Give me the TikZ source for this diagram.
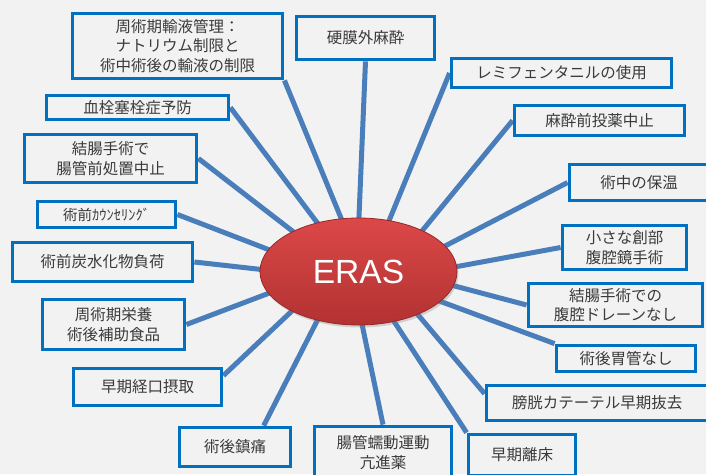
\documentclass[tikz,border=0pt]{standalone}
\usepackage{fontspec}
\setmainfont{Noto Sans CJK JP}
\newfontfamily\erasfont{Liberation Sans}
\usetikzlibrary{calc,shapes.geometric,shadows}
\pgfdeclarelayer{back}
\pgfdeclarelayer{lines}
\pgfsetlayers{back,lines,main}
\definecolor{bgc}{HTML}{F2F2F2}
\definecolor{boxc}{HTML}{0070C0}
\definecolor{linec}{HTML}{4A7EBB}
\definecolor{txtc}{HTML}{3A3A3A}
\definecolor{eraTop}{HTML}{DC4848}
\definecolor{eraBot}{HTML}{B23232}
\definecolor{eraEdge}{HTML}{9A2626}
\begin{document}
\begin{tikzpicture}[x=1pt,y=-1pt,
  item/.style={draw=boxc, line width=3.8pt, fill=bgc, text=txtc, align=center,
    inner sep=0pt, font=\fontsize{15.5}{19.5}\selectfont},
  spoke/.style={draw=linec, line width=5pt}]
\begin{pgfonlayer}{back}
  \fill[bgc] (0,0) rectangle (706,474);
\end{pgfonlayer}
\useasboundingbox (0,0) rectangle (706,474);

% centre
\node[ellipse, minimum width=197pt, minimum height=107pt, inner sep=0pt,
  top color=eraTop, bottom color=eraBot, draw=eraEdge, line width=0.8pt,
  drop shadow={opacity=0.3, shadow xshift=1.5pt, shadow yshift=-2.5pt},
  text=white, font=\erasfont\fontsize{33.5}{36}\selectfont] (eras) at (358.5,271.5) {ERAS};

% boxes
\node[item, minimum width=210pt, minimum height=65pt] (fluid) at (177.5,46) {周術期輸液管理：\\ナトリウム制限と\\術中術後の輸液の制限};
\node[item, minimum width=182pt, minimum height=24pt] (vte) at (137.5,107.5) {血栓塞栓症予防};
\node[item, minimum width=172pt, minimum height=48pt] (prep) at (110.5,158.5) {結腸手術で\\腸管前処置中止};
\node[item, minimum width=138pt, minimum height=26pt, font=\fontsize{14.5}{16}\selectfont] (couns) at (106.5,214.5) {術前ｶｳﾝｾﾘﾝｸﾞ};
\node[item, minimum width=180pt, minimum height=39pt] (carb) at (102.5,262) {術前炭水化物負荷};
\node[item, minimum width=142pt, minimum height=50pt] (nutr) at (113.5,324.5) {周術期栄養\\術後補助食品};
\node[item, minimum width=148pt, minimum height=37pt] (oral) at (147.5,387) {早期経口摂取};
\node[item, minimum width=111pt, minimum height=39pt] (anal) at (235,447) {術後鎮痛};
\node[item, minimum width=137pt, minimum height=52pt] (peri) at (383,452.5) {腸管蠕動運動\\亢進薬};
\node[item, minimum width=107pt, minimum height=41pt] (mob) at (522,455) {早期離床};
\node[item, minimum width=221pt, minimum height=35pt] (cath) at (597,403) {膀胱カテーテル早期抜去};
\node[item, minimum width=139pt, minimum height=26pt] (ngt) at (626,358.5) {術後胃管なし};
\node[item, minimum width=174pt, minimum height=43pt] (drain) at (615.5,305) {結腸手術での\\腹腔ドレーンなし};
\node[item, minimum width=124pt, minimum height=44pt] (lap) at (624.5,247.5) {小さな創部\\腹腔鏡手術};
\node[item, minimum width=139pt, minimum height=36pt] (warm) at (639,182.5) {術中の保温};
\node[item, minimum width=170pt, minimum height=30pt] (premed) at (599.5,120.5) {麻酔前投薬中止};
\node[item, minimum width=220pt, minimum height=29pt] (remi) at (561.5,73) {レミフェンタニルの使用};
\node[item, minimum width=138pt, minimum height=43pt] (epi) at (365.5,38) {硬膜外麻酔};

% spokes
\begin{pgfonlayer}{lines}
\draw[spoke] (fluid.south east) -- ($(eras.center)!0.8!(eras.107)$);
\draw[spoke] (vte.east) -- ($(eras.center)!0.8!(eras.131)$);
\draw[spoke] (prep.east) -- ($(eras.center)!0.8!(eras.150)$);
\draw[spoke] (couns.east) -- ($(eras.center)!0.8!(eras.168.5)$);
\draw[spoke] (carb.east) -- ($(eras.center)!0.8!(eras.180)$);
\draw[spoke] (nutr.east) -- ($(eras.center)!0.8!(eras.192.6)$);
\draw[spoke] ($(oral.north east)!0.22!(oral.south east)$) -- ($(eras.center)!0.8!(eras.208)$);
\draw[spoke] ($(anal.north west)!0.75!(anal.north east)$) -- ($(eras.center)!0.8!(eras.227)$);
\draw[spoke] (peri.north) -- ($(eras.center)!0.8!(eras.272)$);
\draw[spoke] (mob.north west) -- ($(eras.center)!0.8!(eras.306)$);
\draw[spoke] ($(cath.north west)!0.26!(cath.south west)$) -- ($(eras.center)!0.8!(eras.327)$);
\draw[spoke] (ngt.north west) -- ($(eras.center)!0.8!(eras.340)$);
\draw[spoke] (drain.west) -- ($(eras.center)!0.8!(eras.353)$);
\draw[spoke] (lap.west) -- ($(eras.center)!0.8!(eras.1)$);
\draw[spoke] (warm.west) -- ($(eras.center)!0.8!(eras.14)$);
\draw[spoke] (premed.west) -- ($(eras.center)!0.8!(eras.29)$);
\draw[spoke] (remi.west) -- ($(eras.center)!0.8!(eras.57.5)$);
\draw[spoke] (epi.south) -- ($(eras.center)!0.8!(eras.90.5)$);
\end{pgfonlayer}
\end{tikzpicture}
\end{document}
